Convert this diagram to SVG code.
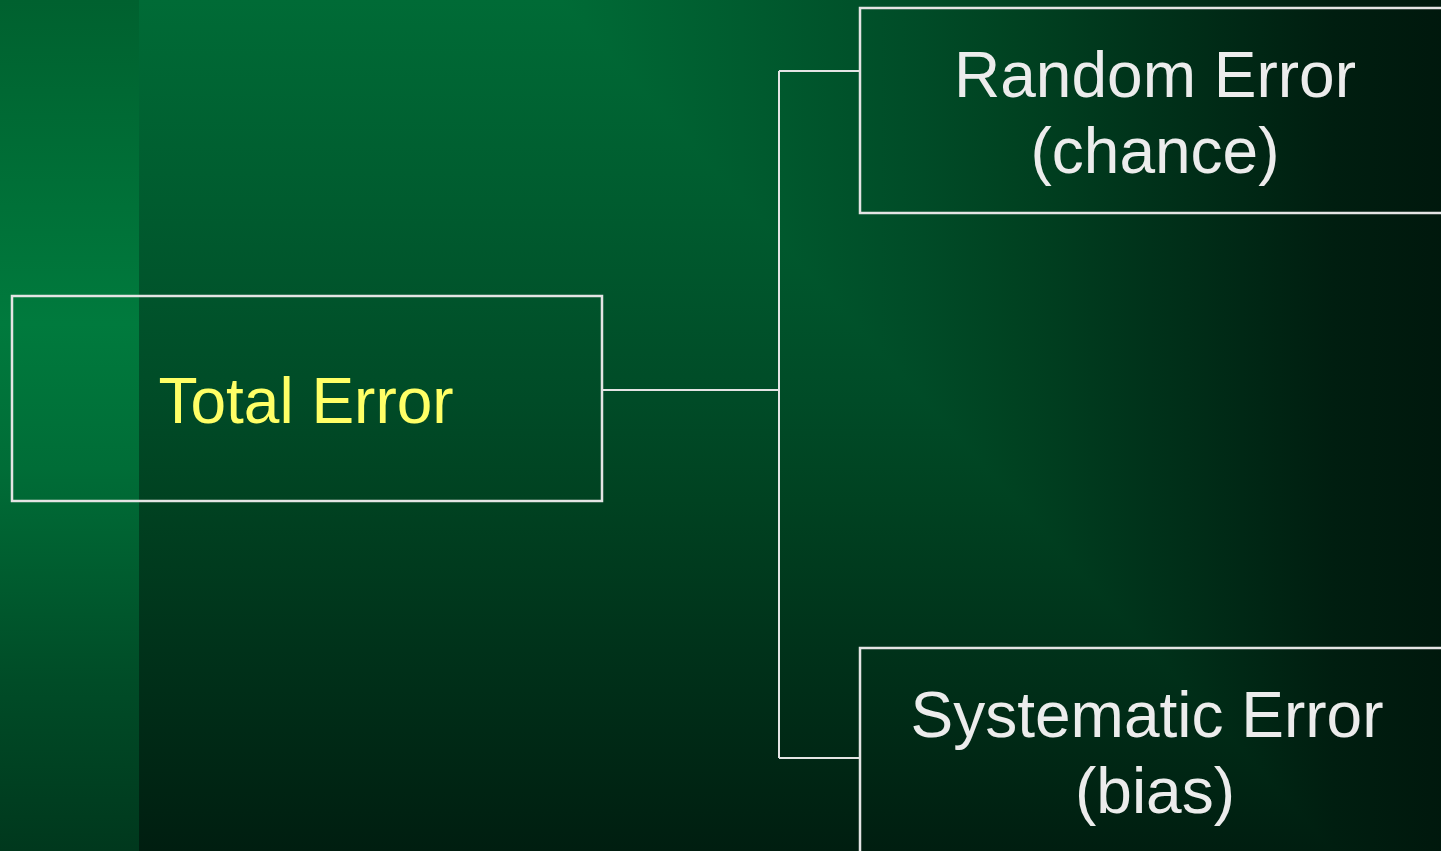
<svg xmlns="http://www.w3.org/2000/svg" width="1441" height="851" viewBox="0 0 1441 851">
  <defs>
    <!-- backdrop: rectangular fall-off from the top edge; the same ramp runs
         downwards (bgV) and to the right inside the right-hand wedge (bgH) -->
    <linearGradient id="bgV" x1="0" y1="0" x2="0" y2="1000" gradientUnits="userSpaceOnUse">
      <stop offset="0" stop-color="#006b36"/>
      <stop offset="0.2" stop-color="#005c2f"/>
      <stop offset="0.4" stop-color="#004b27"/>
      <stop offset="0.5" stop-color="#004221"/>
      <stop offset="0.65" stop-color="#00321a"/>
      <stop offset="0.851" stop-color="#001e10"/>
      <stop offset="1" stop-color="#00170c"/>
    </linearGradient>
    <linearGradient id="bgH" x1="560" y1="0" x2="1469" y2="0" gradientUnits="userSpaceOnUse">
      <stop offset="0" stop-color="#006b36"/>
      <stop offset="0.2" stop-color="#005c2f"/>
      <stop offset="0.4" stop-color="#004b27"/>
      <stop offset="0.5" stop-color="#004221"/>
      <stop offset="0.65" stop-color="#00321a"/>
      <stop offset="0.851" stop-color="#001e10"/>
      <stop offset="1" stop-color="#00170c"/>
    </linearGradient>
    <linearGradient id="strip" x1="0" y1="0" x2="0" y2="851" gradientUnits="userSpaceOnUse">
      <stop offset="0" stop-color="#00612f"/>
      <stop offset="0.38" stop-color="#007a3d"/>
      <stop offset="0.55" stop-color="#006d37"/>
      <stop offset="0.8" stop-color="#004c27"/>
      <stop offset="1" stop-color="#00381d"/>
    </linearGradient>
    <style>
      .box { fill: none; stroke: #e4e4e4; stroke-width: 2.5; }
      .wire { fill: none; stroke: #e4e4e4; stroke-width: 2; }
      .label { font-family: "Liberation Sans", Arial, sans-serif; font-size: 64px; text-anchor: middle; }
      .main { fill: #ffff66; }
      .sub { fill: #ececec; }
    </style>
  </defs>

  <!-- background -->
  <rect x="0" y="0" width="1441" height="851" fill="url(#bgV)"/>
  <polygon points="560,0 1441,0 1441,969" fill="url(#bgH)"/>
  <rect x="0" y="0" width="139" height="851" fill="url(#strip)"/>

  <!-- connectors -->
  <g id="connectors">
    <path class="wire" d="M602 390 H779"/>
    <path class="wire" d="M779 71 V758"/>
    <path class="wire" d="M779 71 H860"/>
    <path class="wire" d="M779 758 H860"/>
  </g>

  <!-- nodes -->
  <g id="total-error">
    <rect class="box" x="12" y="296" width="590" height="205"/>
    <text class="label main" x="306" y="423">Total Error</text>
  </g>

  <g id="random-error">
    <rect class="box" x="860" y="8" width="600" height="205"/>
    <text class="label sub" x="1155" y="97">Random Error</text>
    <text class="label sub" x="1155" y="173">(chance)</text>
  </g>

  <g id="systematic-error">
    <rect class="box" x="860" y="648" width="600" height="220"/>
    <text class="label sub" x="1147" y="737">Systematic Error</text>
    <text class="label sub" x="1155" y="813">(bias)</text>
  </g>
</svg>
